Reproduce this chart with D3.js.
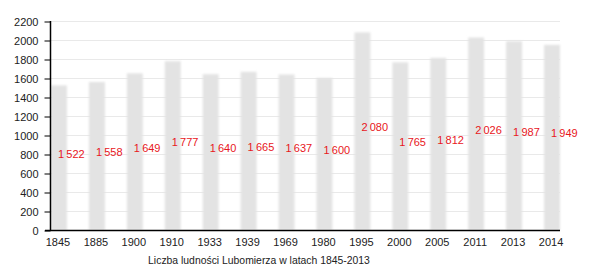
<!DOCTYPE html>
<html>
<head>
<meta charset="utf-8">
<script src="https://cdn.jsdelivr.net/npm/d3@7"></script>
<style>
  body { margin: 0; background: #fff; }
  text { font-family: "Liberation Sans", Arial, sans-serif; }
</style>
</head>
<body>
<script>
var years = ['1845','1885','1900','1910','1933','1939','1969','1980','1995','2000','2005','2011','2013','2014'];
var population = [1522,1558,1649,1777,1640,1665,1637,1600,2080,1765,1812,2026,1987,1949];
var yTicks = [0,200,400,600,800,1000,1200,1400,1600,1800,2000,2200];
var title = 'Liczba ludności Lubomierza w latach 1845-2013';

var svg = d3.select("body").append("svg").attr("width", 600).attr("height", 270);

var x = d3.scaleBand()
            .domain(years)
            .range([51, 560])
            .paddingInner(0.58)
            .paddingOuter(0);

var y = d3.scaleLinear().domain([0, 2200]).range([230, 21]);

var blur = svg.append("defs").append("filter").attr("id", "soft")
            .attr("x", "-20%").attr("y", "-5%").attr("width", "140%").attr("height", "110%");
blur.append("feGaussianBlur").attr("stdDeviation", 0.8);

// grid
svg.selectAll("line.grid")
         .data(yTicks.filter(function(d){ return d > 0; }))
         .enter().append("line")
         .attr("class", "grid")
         .attr("x1", 50)
         .attr("x2", 560)
         .attr("y1", function(d){ return y(d) + 0.5; })
         .attr("y2", function(d){ return y(d) + 0.5; })
         .attr("stroke", "#e9e9e9")
         .attr("stroke-width", 1);

// bars
svg.selectAll("rect.bar")
         .data(population)
         .enter().append("rect")
         .attr("class", "bar")
         .attr("x", function(d,i){ return x(years[i]); })
         .attr("width", x.bandwidth())
         .attr("y", function(d){ return y(d); })
         .attr("height", function(d){ return y(0) - y(d); })
         .attr("fill", "#e3e3e3")
         .attr("filter", "url(#soft)");

// value labels
var fmt = function(d){ return d3.format(",")(d).replace(",", "\u2009"); };
svg.selectAll("text.val")
         .data(population)
         .enter().append("text")
         .attr("class", "val")
         .attr("x", function(d,i){ return x(years[i]) + x.bandwidth()/2 - 1; })
         .attr("y", function(d){ return y(d/2); })
         .attr("font-size", 11)
         .attr("fill", "#e8161c")
         .text(fmt);

// axes
var yAxis = d3.axisLeft(y).tickValues(yTicks).tickSize(6).tickFormat(d3.format("d"));
var gy = svg.append("g").attr("transform", "translate(50.5,0.5)").call(yAxis);
gy.select(".domain").remove();
gy.selectAll("line").attr("stroke", "#000");
gy.selectAll("text").attr("font-size", 11).attr("fill", "#222").attr("x", -12);

svg.append("line")
         .attr("x1", 50.5).attr("x2", 50.5)
         .attr("y1", y(2200)).attr("y2", y(0))
         .attr("stroke", "#000").attr("stroke-width", 1.5);

svg.append("line")
         .attr("x1", 45).attr("x2", 560)
         .attr("y1", y(0) + 0.5).attr("y2", y(0) + 0.5)
         .attr("stroke", "#000").attr("stroke-width", 1.5);

var xAxis = d3.axisBottom(x).tickSize(0).tickPadding(8);
var gx = svg.append("g").attr("transform", "translate(-1,230)").call(xAxis);
gx.select(".domain").remove();
gx.selectAll("text").attr("font-size", 11).attr("fill", "#222");

svg.append("text")
         .attr("x", 259)
         .attr("y", 264)
         .attr("text-anchor", "middle")
         .attr("font-size", 10.4)
         .attr("fill", "#222")
         .text(title);
</script>
</body>
</html>
